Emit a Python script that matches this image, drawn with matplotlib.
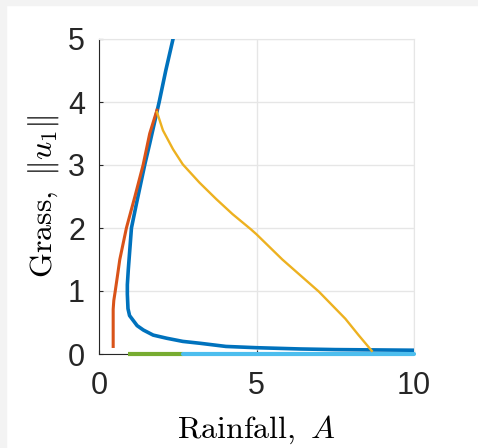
import numpy as np
import matplotlib
matplotlib.use("Agg")
import matplotlib.pyplot as plt
from matplotlib.patches import Rectangle

# values (rainfall A, grass ||u1||)
blue_A = [2.35, 2.12, 1.91, 1.61, 1.45, 1.19, 1.03, 0.93, 0.90, 0.90, 0.92, 0.97, 1.09,
          1.21, 1.41, 1.72, 2.15, 2.66, 3.21, 4.03, 5.00, 6.38, 7.50, 8.70, 10.0]
blue_u = [5.00, 4.50, 4.00, 3.34, 3.00, 2.39, 2.00, 1.34, 1.10, 0.95, 0.72, 0.61, 0.53,
          0.45, 0.38, 0.30, 0.25, 0.20, 0.17, 0.12, 0.10, 0.08, 0.07, 0.065, 0.06]

orange_A = [0.45, 0.45, 0.45, 0.47, 0.51, 0.58, 0.66, 0.87, 1.14, 1.40, 1.61, 1.84]
orange_u = [0.12, 0.40, 0.71, 0.85, 0.98, 1.22, 1.50, 2.00, 2.50, 3.00, 3.50, 3.87]

yellow_A = [1.84, 2.03, 2.35, 2.66, 3.19, 3.72, 4.24, 4.82, 5.00, 5.82, 6.98, 7.82, 8.24, 8.66]
yellow_u = [3.84, 3.55, 3.25, 3.01, 2.72, 2.46, 2.22, 1.98, 1.90, 1.50, 0.99, 0.56, 0.30, 0.05]

green_A = [0.93, 2.68]
green_u = [0.0, 0.0]
sky_A = [2.68, 10.0]
sky_u = [0.0, 0.0]

plt.rcParams['mathtext.fontset'] = 'cm'
plt.rcParams['font.family'] = 'Liberation Sans'

fig = plt.figure(figsize=(4.78, 4.48), dpi=100)
fig.patches.append(Rectangle((0, 0), 6/478, 1, transform=fig.transFigure,
                             color='#f3f3f3', zorder=-1))
fig.patches.append(Rectangle((0, 1 - 5/448), 1, 5/448, transform=fig.transFigure,
                             color='#f3f3f3', zorder=-1))
ax = fig.add_axes([99/478, 94/448, 315/478, 315/448])

ax.plot(green_A, green_u, color='#77AC30', lw=3.0, solid_capstyle='butt', clip_on=False, zorder=3)
ax.plot(sky_A, sky_u, color='#4DBEEE', lw=3.0, solid_capstyle='round', clip_on=False, zorder=3)
ax.plot(blue_A, blue_u, color='#0072BD', lw=2.6, zorder=4)
ax.plot(orange_A, orange_u, color='#D95319', lw=2.2, zorder=5)
ax.plot(yellow_A, yellow_u, color='#EDB120', lw=1.7, zorder=5)

ax.set_xlim(0, 10)
ax.set_ylim(0, 5)
ax.set_xticks([0, 5, 10])
ax.set_yticks([0, 1, 2, 3, 4, 5])
ax.grid(True, color='#e6e6e6', lw=1.0)
ax.set_axisbelow(True)
for s in ['top', 'right']:
    ax.spines[s].set_color('#e6e6e6')
for s in ['left', 'bottom']:
    ax.spines[s].set_color('#262626')
    ax.spines[s].set_linewidth(0.8)
ax.tick_params(direction='in', length=3, width=0.8, labelsize=22,
               labelcolor='#262626', color='#262626', top=False, right=False)
ax.tick_params(axis='y', pad=10)
ax.tick_params(axis='x', pad=12)

ax.set_xlabel(r'$\mathrm{Rainfall},\ A$', fontsize=23, labelpad=9)
ax.set_ylabel(r'$\mathrm{Grass},\ \|u_1\|$', fontsize=23, labelpad=5)

fig.savefig('out.png', dpi=100)
